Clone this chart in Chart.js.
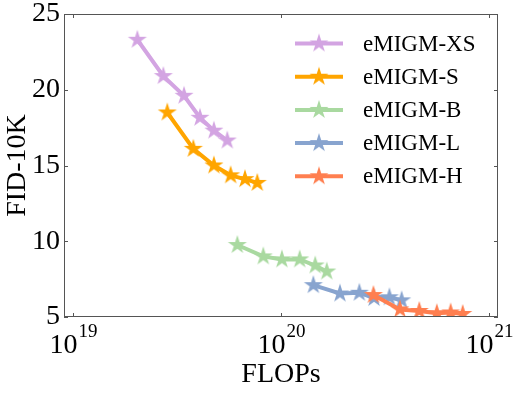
<!DOCTYPE html>
<html><head><meta charset="utf-8">
<script src="https://cdn.jsdelivr.net/npm/chart.js@4"></script>
<style>html,body{margin:0;padding:0;background:#fff}canvas{display:block}</style>
</head><body>
<canvas id="c" width="518" height="393"></canvas>
<script>
const SERIF = "'Liberation Serif', 'Times New Roman', serif";

// FLOPs / FID-10K per model size
const names = ["eMIGM-XS", "eMIGM-S", "eMIGM-B", "eMIGM-L", "eMIGM-H"];
const colors = ["#D3A4E2", "#FFA500", "#A9D9A0", "#88A4CF", "#FF7F50"];
const xsFlops = [2.04e19, 2.72e19, 3.42e19, 4.08e19, 4.76e19, 5.52e19];
const xsFid = [23.3, 20.9, 19.6, 18.15, 17.3, 16.65];
const sFlops = [2.84e19, 3.79e19, 4.76e19, 5.73e19, 6.71e19, 7.69e19];
const sFid = [18.5, 16.1, 15.0, 14.35, 14.1, 13.85];
const bFlops = [6.17e19, 8.22e19, 1.01e20, 1.23e20, 1.46e20, 1.66e20];
const bFid = [9.75, 9.0, 8.8, 8.8, 8.4, 8.0];
const lFlops = [1.43e20, 1.92e20, 2.38e20, 2.80e20, 3.32e20, 3.80e20];
const lFid = [7.1, 6.55, 6.6, 6.25, 6.3, 6.1];
const hFlops = [2.78e20, 3.73e20, 4.62e20, 5.61e20, 6.54e20, 7.47e20];
const hFid = [6.45, 5.5, 5.4, 5.25, 5.3, 5.2];
const xTicks = [1e19, 1e20, 1e21];
const xTickExp = ["19", "20", "21"];

const flops = [xsFlops, sFlops, bFlops, lFlops, hFlops];
const fids = [xsFid, sFid, bFid, lFid, hFid];

/* filled 5-point star, same shape as matplotlib's '*' marker */
function starImg(color, R) {
  const s = Math.ceil(R * 2 + 4), c = document.createElement("canvas");
  c.width = s; c.height = s;
  const g = c.getContext("2d");
  g.beginPath();
  for (let i = 0; i < 10; i++) {
    const r = i % 2 ? R * 0.381966 : R;
    const a = -Math.PI / 2 + i * Math.PI / 5;
    g.lineTo(s / 2 + r * Math.cos(a), s / 2 + r * Math.sin(a));
  }
  g.closePath();
  g.fillStyle = color; g.fill();
  return c;
}
const stars = colors.map(c => starImg(c, 10));

const datasets = names.map((n, i) => ({
  label: n,
  data: flops[i].map((x, j) => ({ x, y: fids[i][j] })),
  borderColor: colors[i], backgroundColor: colors[i], borderWidth: 4,
  pointStyle: stars[i], pointRadius: 10, pointHoverRadius: 10,
  tension: 0, fill: false, clip: 0, order: names.length - i,
}));

const frame = {
  id: "frame",
  afterDraw(chart) {
    const { ctx, chartArea: a, scales: { x, y } } = chart;
    ctx.save();
    // spines
    ctx.strokeStyle = "#555"; ctx.lineWidth = 1;
    ctx.strokeRect(a.left + 0.5, a.top + 0.5, a.right - a.left - 1, a.bottom - a.top - 1);
    // inward ticks, all four sides
    ctx.beginPath();
    xTicks.forEach(v => {
      const px = Math.round(x.getPixelForValue(v)) + 0.5;
      ctx.moveTo(px, a.bottom); ctx.lineTo(px, a.bottom - 4);
      ctx.moveTo(px, a.top); ctx.lineTo(px, a.top + 4);
    });
    y.ticks.forEach(t => {
      const py = Math.round(y.getPixelForValue(t.value)) + 0.5;
      ctx.moveTo(a.left, py); ctx.lineTo(a.left + 4, py);
      ctx.moveTo(a.right, py); ctx.lineTo(a.right - 4, py);
    });
    ctx.stroke();

    // x tick labels 10^n
    ctx.fillStyle = "#000"; ctx.textBaseline = "alphabetic"; ctx.textAlign = "left";
    xTicks.forEach((v, i) => {
      const px = x.getPixelForValue(v);
      ctx.font = "28px " + SERIF;
      const wb = ctx.measureText("10").width;
      ctx.font = "19px " + SERIF;
      const we = ctx.measureText(xTickExp[i]).width;
      const x0 = px - (wb + we) / 2;
      ctx.font = "28px " + SERIF;
      ctx.fillText("10", x0, 353);
      ctx.font = "19px " + SERIF;
      ctx.fillText(xTickExp[i], x0 + wb + 1, 337);
    });

    // axis titles
    ctx.font = "28px " + SERIF; ctx.textAlign = "center";
    ctx.fillText("FLOPs", (a.left + a.right) / 2, 382);
    ctx.save();
    ctx.translate(25, (a.top + a.bottom) / 2);
    ctx.rotate(-Math.PI / 2);
    ctx.fillText("FID-10K", 0, 0);
    ctx.restore();

    // legend
    ctx.textAlign = "left"; ctx.textBaseline = "middle"; ctx.font = "23px " + SERIF;
    names.forEach((n, i) => {
      const ly = 43.5 + i * 33.2;
      ctx.strokeStyle = colors[i]; ctx.lineWidth = 4;
      ctx.beginPath(); ctx.moveTo(295, ly); ctx.lineTo(343, ly); ctx.stroke();
      const s = stars[i];
      ctx.drawImage(s, 319 - s.width / 2, ly - s.height / 2);
      ctx.fillStyle = "#000";
      ctx.fillText(n, 363, ly + 1);
    });
    ctx.restore();
  },
};

new Chart(document.getElementById("c"), {
  type: "line",
  data: { datasets },
  options: {
    responsive: false, animation: false, events: [],
    layout: { padding: { top: 13, right: 20, left: 0, bottom: 0 } },
    plugins: { legend: { display: false }, tooltip: { enabled: false } },
    scales: {
      x: {
        type: "logarithmic", min: Math.pow(10, 18.957), max: Math.pow(10, 21.043),
        afterBuildTicks: s => { s.ticks = xTicks.map(v => ({ value: v })); },
        ticks: { display: false },
        grid: { display: false, drawTicks: false }, border: { display: false },
        afterFit: s => { s.height = 76; s.paddingLeft = 0; s.paddingRight = 0; },
      },
      y: {
        min: 5, max: 25,
        ticks: { stepSize: 5, padding: 4, color: "#000", font: { family: SERIF, size: 28 } },
        grid: { display: false, drawTicks: false }, border: { display: false },
        afterFit: s => { s.width = 64; s.paddingTop = 0; s.paddingBottom = 0; },
      },
    },
  },
  plugins: [frame],
});
</script></body></html>
